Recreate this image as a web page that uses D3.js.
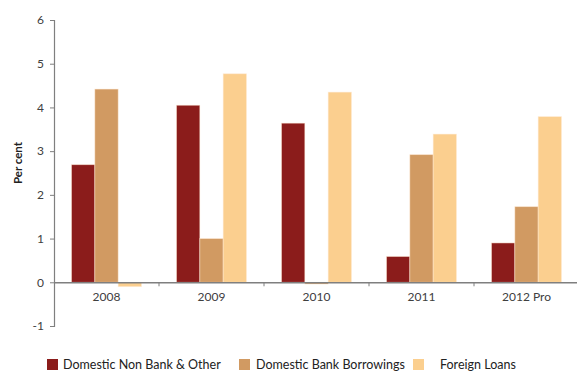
<!DOCTYPE html>
<html>
<head>
<meta charset="utf-8">
<script src="https://cdn.jsdelivr.net/npm/d3@7"></script>
<style>
  html, body { margin: 0; padding: 0; background: #fff; }
  svg { display: block; font-family: Lato, "Noto Sans", sans-serif; }
</style>
</head>
<body>
<svg id="chart" width="577" height="372"></svg>
<script>
// Financing sources, per cent
const years = ["2008", "2009", "2010", "2011", "2012 Pro"];
const seriesNames = ["Domestic Non Bank & Other", "Domestic Bank Borrowings", "Foreign Loans"];
const nonBank = [2.69, 4.05, 3.64, 0.59, 0.90];
const bankBorrowings = [4.42, 1.00, -0.04, 2.92, 1.73];
const foreignLoans = [-0.10, 4.77, 4.35, 3.39, 3.79];
const yTicks = [-1, 0, 1, 2, 3, 4, 5, 6];
const colors = ["#8b1c1b", "#d19a62", "#fbcf8f"];

const seriesValues = [nonBank, bankBorrowings, foreignLoans];

const svg = d3.select("#chart");
const plotL = 54, plotR = 579, plotT = 20, plotB = 326;

const y = d3.scaleLinear().domain([-1, 6]).range([plotB, plotT]);
const x = d3.scaleBand().domain(years).range([plotL, plotR]).paddingInner(0).paddingOuter(0);
const groupW = x.bandwidth() * (2 / 3);
const xs = d3.scaleBand().domain(d3.range(seriesNames.length))
  .range([(x.bandwidth() - groupW) / 2, (x.bandwidth() + groupW) / 2]);

// Bars
seriesValues.forEach((vals, si) => {
  svg.append("g").selectAll("rect")
    .data(vals)
    .join("rect")
    .attr("x", (d, i) => x(years[i]) + xs(si))
    .attr("width", xs.bandwidth())
    .attr("y", d => y(Math.max(0, d)))
    .attr("height", d => Math.abs(y(d) - y(0)))
    .attr("fill", colors[si])
    .attr("stroke", "rgba(255,235,215,0.6)")
    .attr("stroke-width", 0.8);
});

// Y axis
const yAxis = svg.append("g")
  .attr("transform", `translate(${plotL},0)`)
  .call(d3.axisLeft(y).tickValues(yTicks).tickSize(4).tickPadding(6).tickFormat(d => String(d)));
yAxis.attr("font-family", null);
yAxis.select(".domain").attr("stroke", "#7f7f7f").attr("stroke-width", 1.2);
yAxis.selectAll(".tick line").attr("stroke", "#7f7f7f");
yAxis.selectAll(".tick text").attr("fill", "#404040").attr("font-size", 12);

// X axis along zero
const xAxis = svg.append("g")
  .attr("transform", `translate(0,${y(0)})`)
  .call(d3.axisBottom(x).tickSize(0).tickPadding(10));
xAxis.attr("font-family", null);
xAxis.select(".domain").attr("stroke", "#7f7f7f").attr("stroke-width", 1.6);
xAxis.selectAll(".tick text").attr("fill", "#404040").attr("font-size", 12);

// Category separators on the zero line
svg.append("g").selectAll("line")
  .data(years.slice(1))
  .join("line")
  .attr("x1", d => x(d)).attr("x2", d => x(d))
  .attr("y1", y(0)).attr("y2", y(0) + 4)
  .attr("stroke", "#7f7f7f").attr("stroke-width", 1);

// Y axis title
svg.append("text")
  .attr("transform", `translate(22,${(plotT + plotB) / 2 - 10}) rotate(-90)`)
  .attr("text-anchor", "middle")
  .attr("font-size", 11.5)
  .attr("font-weight", "bold")
  .attr("fill", "#222")
  .text("Per cent");

// Legend
const legendBoxX = [47, 239, 413];
const legendTextX = [63, 256, 440];
const legend = svg.append("g");
seriesNames.forEach((name, i) => {
  legend.append("rect")
    .attr("x", legendBoxX[i]).attr("y", 359)
    .attr("width", 11).attr("height", 11)
    .attr("fill", colors[i]);
  legend.append("text")
    .attr("x", legendTextX[i]).attr("y", 369)
    .attr("font-size", 12.5)
    .attr("fill", "#222")
    .text(name);
});
</script>
</body>
</html>
